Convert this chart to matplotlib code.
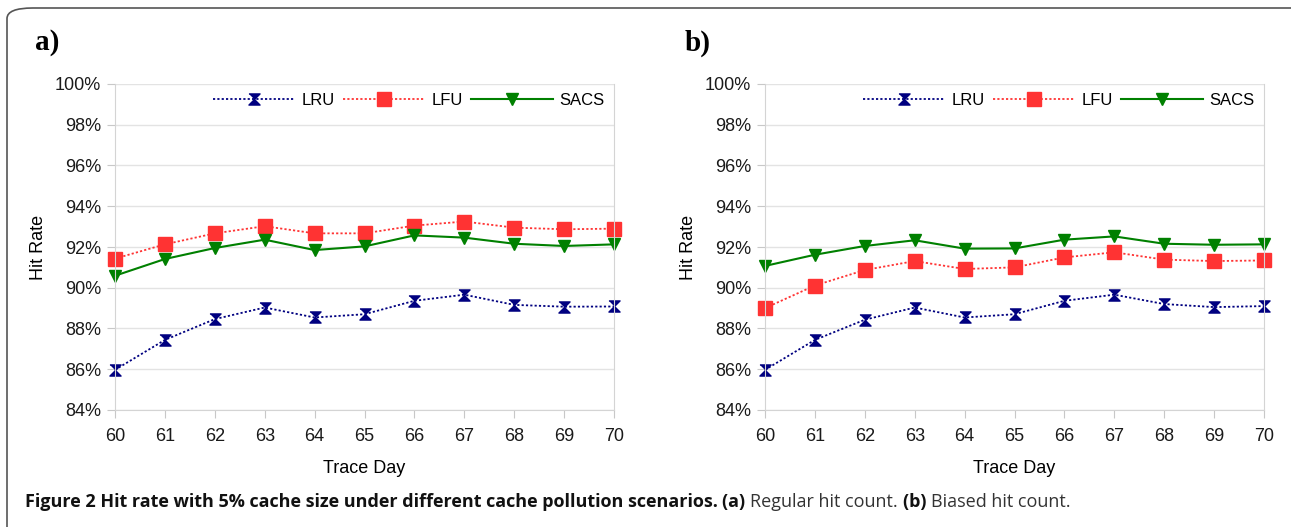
import matplotlib
matplotlib.use("Agg")
import matplotlib.pyplot as plt
from matplotlib.patches import FancyBboxPatch
from matplotlib.ticker import FuncFormatter

days = [60, 61, 62, 63, 64, 65, 66, 67, 68, 69, 70]

# panel a) regular hit count
lru_a = [85.97, 87.44, 88.46, 89.03, 88.54, 88.70, 89.36, 89.66, 89.16, 89.07, 89.08]
lfu_a = [91.43, 92.13, 92.67, 93.02, 92.67, 92.67, 93.05, 93.25, 92.95, 92.87, 92.90]
sacs_a = [90.59, 91.41, 91.95, 92.36, 91.85, 92.03, 92.57, 92.46, 92.16, 92.05, 92.13]

# panel b) biased hit count
lru_b = [85.97, 87.44, 88.43, 89.03, 88.54, 88.70, 89.36, 89.66, 89.20, 89.05, 89.10]
lfu_b = [89.00, 90.11, 90.87, 91.31, 90.92, 91.00, 91.49, 91.74, 91.38, 91.31, 91.34]
sacs_b = [91.07, 91.62, 92.05, 92.33, 91.92, 91.93, 92.36, 92.52, 92.16, 92.11, 92.13]

y_ticks = [84, 86, 88, 90, 92, 94, 96, 98, 100]
panel_labels = ["a)", "b)"]

W, H = 1291, 527
plt.rcParams["font.family"] = ["Liberation Sans", "DejaVu Sans"]

fig = plt.figure(figsize=(W / 100, H / 100), dpi=100)

# rounded frame around the figure (open at right/bottom edges)
frame = FancyBboxPatch((7 / W, -0.2), 1.2, (H - 8) / H + 0.2,
                       boxstyle="round,pad=0,rounding_size=0.02",
                       transform=fig.transFigure, fill=False,
                       edgecolor="#555555", linewidth=1.2)
fig.patches.append(frame)

hourglass = [(-1, 1), (1, 1), (0, 0), (1, -1), (-1, -1), (0, 0)]

def pct(v, pos):
    return "%d%%" % v

panels = [(115, lru_a, lfu_a, sacs_a), (765, lru_b, lfu_b, sacs_b)]
for i, (x0, lru, lfu, sacs) in enumerate(panels):
    ax = fig.add_axes([x0 / W, (H - 410) / H, 499 / W, 326 / H])
    ax.plot(days, lru, linestyle=(0, (1.2, 1.2)), color="#000080", linewidth=1.3,
            marker=hourglass, markersize=8, label="LRU", clip_on=False)
    ax.plot(days, lfu, linestyle=(0, (1.2, 1.2)), color="#ff3333", linewidth=1.3,
            marker="s", markersize=9.5, label="LFU", clip_on=False)
    ax.plot(days, sacs, linestyle="-", color="#008000", linewidth=1.5,
            marker="v", markersize=8, label="SACS", clip_on=False)

    ax.set_xlim(60, 70)
    ax.set_ylim(84, 100)
    ax.set_xticks(days)
    ax.set_yticks(y_ticks)
    ax.yaxis.set_major_formatter(FuncFormatter(pct))
    ax.grid(axis="y", color="#e3e3e3", linewidth=1)
    ax.set_axisbelow(True)
    for s in ["left", "bottom", "right"]:
        ax.spines[s].set_color("#d4d4d4")
    ax.spines["top"].set_visible(False)
    ax.tick_params(axis="both", colors="#c8c8c8", labelcolor="#1a1a1a",
                   labelsize=13, length=6)
    ax.tick_params(axis="y", pad=4)
    ax.tick_params(axis="x", pad=7)
    ax.set_ylabel("Hit Rate", fontsize=13, labelpad=6)
    ax.set_xlabel("Trace Day", fontsize=13, labelpad=11)
    ax.legend(loc="upper right", bbox_to_anchor=(1.0, 1.0), ncol=3, frameon=False,
              fontsize=12, handlelength=4.9, columnspacing=0.5, handletextpad=0.4,
              borderaxespad=0.0, borderpad=0.55)

    fig.text((x0 - 80) / W, (H - 43) / H, panel_labels[i], fontsize=21,
             fontweight="bold", family="Liberation Serif", va="center", ha="left")

# caption built from bold and regular pieces
caption = [("Figure 2 Hit rate with 5% cache size under different cache pollution scenarios. ", "bold", "#111111"),
           ("(a) ", "bold", "#111111"),
           ("Regular hit count. ", "normal", "#333333"),
           ("(b) ", "bold", "#111111"),
           ("Biased hit count.", "normal", "#333333")]
renderer = fig.canvas.get_renderer()
x = 25
for txt, weight, col in caption:
    t = fig.text(x / W, (H - 502) / H, txt, fontsize=13, fontweight=weight,
                 color=col, family="Open Sans", va="center", ha="left")
    bb = t.get_window_extent(renderer=renderer)
    x += bb.width

fig.savefig("out.png", dpi=100)
